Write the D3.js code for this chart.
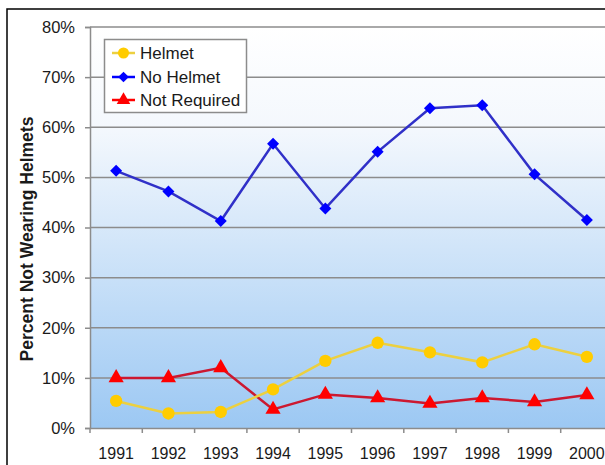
<!DOCTYPE html>
<html><head><meta charset="utf-8">
<script src="https://cdn.jsdelivr.net/npm/d3@7"></script>
<style>body{margin:0;background:#fff;overflow:hidden}svg{display:block;font-family:Arial,"Liberation Sans",sans-serif}</style>
</head><body><svg id="c" width="605" height="465"></svg>
<script>
const years = ["1991","1992","1993","1994","1995","1996","1997","1998","1999","2000"];
const helmet = [5.4, 2.9, 3.2, 7.7, 13.4, 17.0, 15.1, 13.1, 16.7, 14.2];
const noHelmet = [51.3, 47.2, 41.3, 56.7, 43.8, 55.1, 63.8, 64.4, 50.6, 41.5];
const notRequired = [10.0, 10.0, 12.0, 3.7, 6.7, 6.0, 4.9, 6.0, 5.2, 6.6];
const yTicks = [0,10,20,30,40,50,60,70,80];
const seriesNames = ["Helmet","No Helmet","Not Required"];

const svg = d3.select("#c");
const x0 = 90, x1 = 613, yTop = 27, yBot = 428;
const x = d3.scaleBand().domain(years).range([x0, x1]);
const y = d3.scaleLinear().domain([0,80]).range([yBot, yTop]);

const defs = svg.append("defs");
const g = defs.append("linearGradient").attr("id","bg").attr("x1",0).attr("y1",0).attr("x2",0).attr("y2",1);
g.append("stop").attr("offset","0%").attr("stop-color","#ffffff");
g.append("stop").attr("offset","25%").attr("stop-color","#f4f8fd");
g.append("stop").attr("offset","100%").attr("stop-color","#9cc8f3");

// frame
svg.append("rect").attr("x",7).attr("y",9).attr("width",700).attr("height",600)
  .attr("fill","none").attr("stroke","#000").attr("stroke-width",1.5);

svg.append("rect").attr("x",x0).attr("y",yTop).attr("width",x1-x0).attr("height",yBot-yTop).attr("fill","url(#bg)");

// gridlines
svg.append("g").selectAll("line").data(yTicks.filter(d=>d>0)).join("line")
  .attr("x1",x0).attr("x2",x1).attr("y1",d=>y(d)).attr("y2",d=>y(d))
  .attr("stroke","#8c8c8c").attr("stroke-width",1.5);

// axes
const ya = svg.append("g").attr("transform",`translate(${x0},0)`)
  .call(d3.axisLeft(y).tickValues(yTicks).tickFormat(d=>d+"%").tickSize(5).tickPadding(10));
ya.select(".domain").attr("stroke","#8c8c8c").attr("stroke-width",1.5);
ya.selectAll(".tick line").attr("stroke","#8c8c8c").attr("stroke-width",1.5);
ya.selectAll("text").attr("font-size",16.5).attr("fill","#1a1a1a").attr("font-family","Arial,'Liberation Sans',sans-serif");

const xa = svg.append("g").attr("transform",`translate(0,${yBot})`)
  .call(d3.axisBottom(x).tickSize(0).tickPadding(20));
xa.select(".domain").attr("stroke","#8c8c8c").attr("stroke-width",1.5);
xa.selectAll("text").attr("font-size",16).attr("fill","#1a1a1a").attr("font-family","Arial,'Liberation Sans',sans-serif");
// category boundary ticks
svg.append("g").selectAll("line").data(years).join("line")
  .attr("x1",d=>x(d)).attr("x2",d=>x(d)).attr("y1",yBot).attr("y2",yBot+5)
  .attr("stroke","#8c8c8c").attr("stroke-width",1.5);

svg.append("text").attr("transform","translate(33,239) rotate(-90)")
  .attr("text-anchor","middle").attr("font-weight","bold").attr("font-size",17.5).attr("fill","#1a1a1a")
  .text("Percent Not Wearing Helmets");

const cx = d => x(d) + x.bandwidth()/2;
const styles = [
  {data: helmet, line:"#ecd040", fill:"#ffcc00", sym:d3.symbolCircle, size:120, rot:0},
  {data: noHelmet, line:"#3030c8", fill:"#0000ff", sym:d3.symbolSquare, size:72, rot:45},
  {data: notRequired, line:"#cc1830", fill:"#ff0000", sym:d3.symbolTriangle, size:100, rot:0}
];
const lineGen = d3.line().x((d,i)=>cx(years[i])).y(d=>y(d));
[2,0,1].forEach(k=>{
  const s = styles[k];
  svg.append("path").attr("d",lineGen(s.data)).attr("fill","none").attr("stroke",s.line).attr("stroke-width",2.5);
  svg.append("g").selectAll("path").data(s.data).join("path")
    .attr("transform",(d,i)=>`translate(${cx(years[i])},${y(d)}) rotate(${s.rot})`)
    .attr("d",d3.symbol().type(s.sym).size(s.size)).attr("fill",s.fill);
});

// legend
const lg = svg.append("g");
lg.append("rect").attr("x",104.5).attr("y",39.5).attr("width",142).attr("height",73)
  .attr("fill","#fff").attr("stroke","#8c8c8c").attr("stroke-width",1.5);
const rowY = [53,77,100];
seriesNames.forEach((n,i)=>{
  const s = styles[i];
  lg.append("line").attr("x1",112).attr("x2",135).attr("y1",rowY[i]).attr("y2",rowY[i]).attr("stroke",i===0?"#ecd040":(i===1?"#0000ff":"#ff0000")).attr("stroke-width",2.5);
  lg.append("path").attr("transform",`translate(123.5,${rowY[i]}) rotate(${s.rot})`).attr("d",d3.symbol().type(s.sym).size(s.size*0.8)).attr("fill",s.fill);
  lg.append("text").attr("x",140).attr("y",rowY[i]).attr("dy","0.35em").attr("font-size",17).attr("fill","#1a1a1a").text(n);
});
</script></body></html>
